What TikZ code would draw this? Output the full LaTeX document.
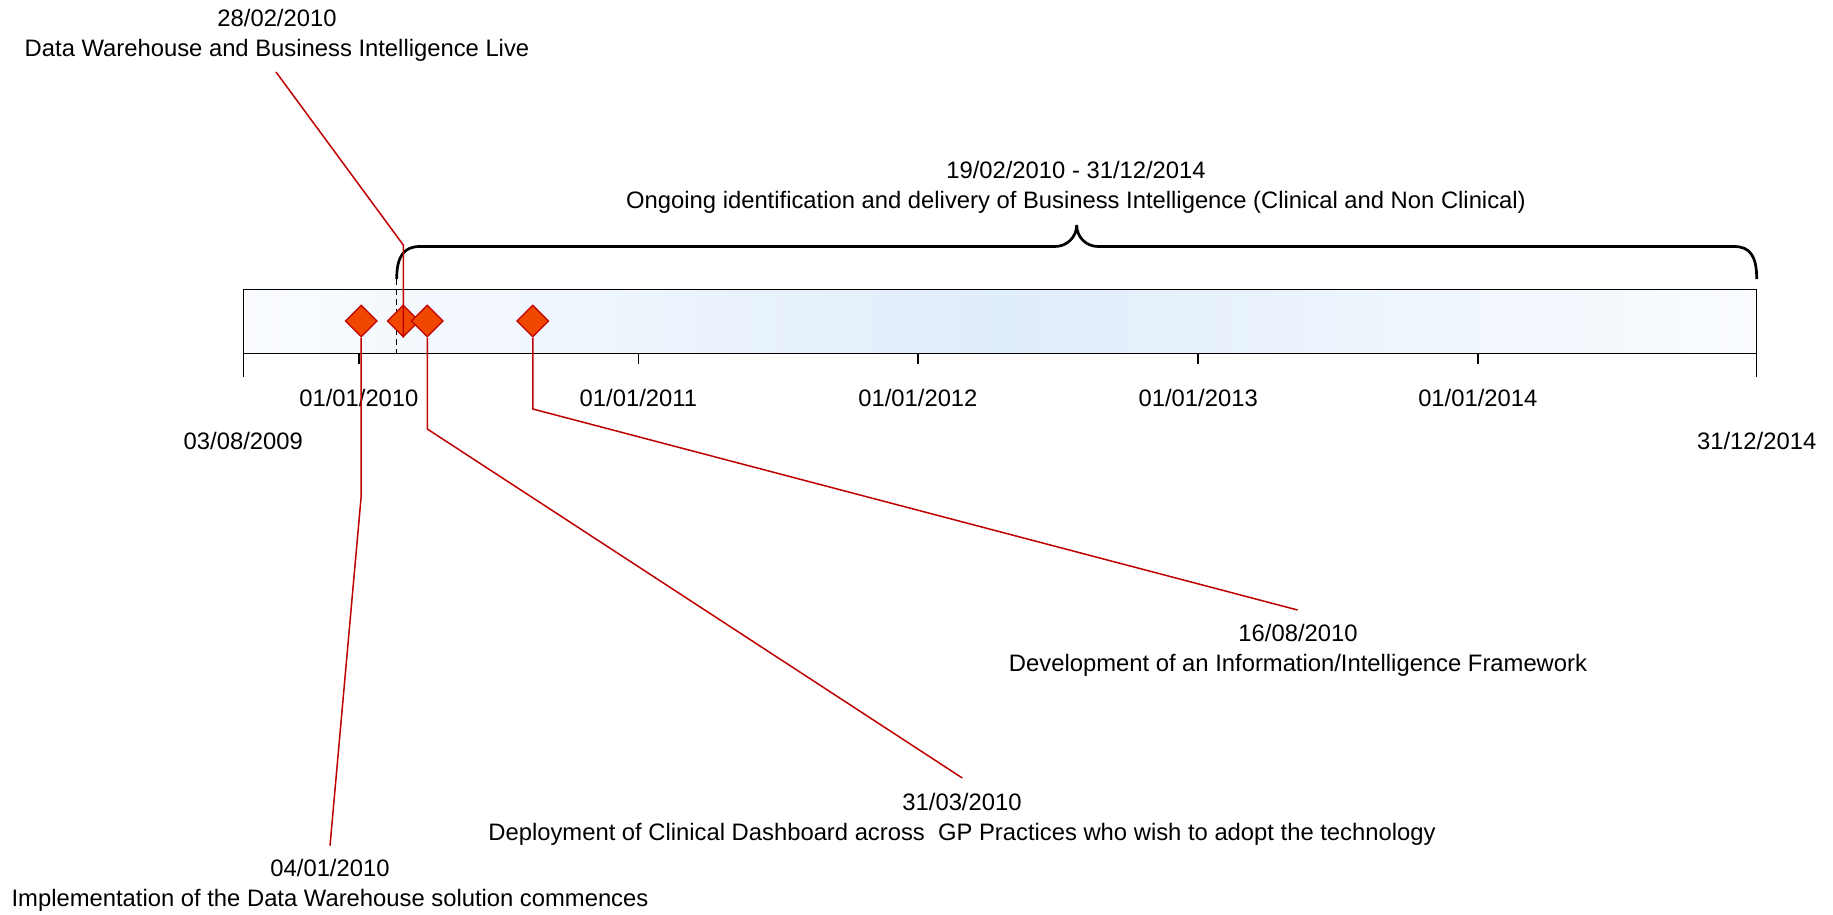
\documentclass[tikz,border=0pt]{standalone}
\usepackage{fontspec}
\setmainfont{Liberation Sans}
\usetikzlibrary{shapes.geometric}

\definecolor{msred}{RGB}{192,0,0}
\definecolor{msfill}{RGB}{240,72,0}
\definecolor{barmid}{RGB}{224,237,250}
\definecolor{barend}{RGB}{250,252,255}

\begin{document}
\begin{tikzpicture}[x=1pt,y=-1pt,
  txt/.style={font=\fontsize{23.8}{30}\selectfont, inner sep=0pt},
  lbl/.style={txt, align=center, anchor=north},
  ticklbl/.style={txt, anchor=base},
  milestone/.style={diamond, draw=msred, fill=msfill, line width=1.2pt,
                    minimum width=32pt, minimum height=32pt, inner sep=0pt},
  leader/.style={draw=msred, line width=1.5pt},
  axis/.style={line width=1.5pt},
  brace/.style={line width=2.7pt},
]
\useasboundingbox (0,0) rectangle (1833,915);

% timeline bar
\shade[left color=barend, right color=barend, middle color=barmid]
  (243.3,289.3) rectangle (1756.7,353.3);
\draw[axis] (243.3,289.3) rectangle (1756.7,353.3);

% end ticks and year ticks
\draw[axis] (243.3,353.3) -- (243.3,377);
\draw[axis] (1756.7,353.3) -- (1756.7,377);
\foreach \x in {358.9,638.4,917.9,1198.2,1477.8}
  \draw[axis] (\x,353.3) -- (\x,364.3);

% axis labels
\node[ticklbl] (y2010) at (358.9,406) {01/01/2010};
\node[ticklbl] (y2011) at (638.4,406) {01/01/2011};
\node[ticklbl] (y2012) at (917.9,406) {01/01/2012};
\node[ticklbl] (y2013) at (1198.2,406) {01/01/2013};
\node[ticklbl] (y2014) at (1477.8,406) {01/01/2014};
\node[ticklbl] (tstart) at (243.3,449.3) {03/08/2009};
\node[ticklbl] (tend) at (1756.7,449.3) {31/12/2014};

% ongoing phase brace
\draw[dash pattern=on 6pt off 4pt, line width=1.5pt] (396.7,279) -- (396.7,353.3);
\draw[brace] (396.7,279) .. controls (396.7,256) and (404,246.5) .. (420,246.5)
  -- (1055,246.5) .. controls (1067,246.5) and (1076.7,237) .. (1076.7,225)
  .. controls (1076.7,237) and (1086,246.5) .. (1098,246.5)
  -- (1734,246.5) .. controls (1750,246.5) and (1756.7,256) .. (1756.7,279);
\node[lbl] (phase) at (1076,161.4)
  {19/02/2010 - 31/12/2014\\Ongoing identification and delivery of Business Intelligence (Clinical and Non Clinical)};

% milestones
\node[milestone] (m1) at (361.2,321) {};
\node[milestone] (m2) at (403.3,321) {};
\node[milestone] (m3) at (427.3,321) {};
\node[milestone] (m4) at (532.8,321) {};

% milestone captions
\node[lbl] (c2) at (277,9.4)
  {28/02/2010\\Data Warehouse and Business Intelligence Live};
\node[lbl] (c1) at (330,859.4)
  {04/01/2010\\Implementation of the Data Warehouse solution commences};
\node[lbl] (c3) at (962,793.2)
  {31/03/2010\\Deployment of Clinical Dashboard across\ \ GP Practices who wish to adopt the technology};
\node[lbl] (c4) at (1298,624.4)
  {16/08/2010\\Development of an Information/Intelligence Framework};

\coordinate (e1) at (330,845.7);
\coordinate (e2) at (276,72);
\coordinate (e3) at (962.3,778);
\coordinate (e4) at (1297.6,610);

% leader lines
\draw[leader] (m1.south) -- (361.2,496) -- (e1);
\draw[leader] (m2.south) -- (403.3,245) -- (e2);
\draw[leader] (m3.south) -- (427.3,429) -- (e3);
\draw[leader] (m4.south) -- (532.8,409) -- (e4);
\end{tikzpicture}
\end{document}
